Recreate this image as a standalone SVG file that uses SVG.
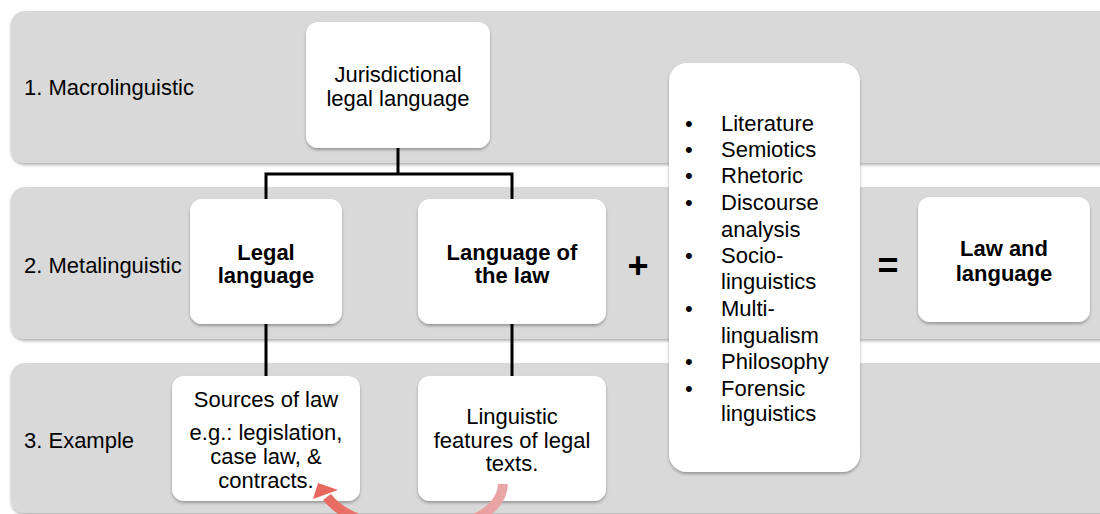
<svg xmlns="http://www.w3.org/2000/svg" width="1100" height="514" viewBox="0 0 1100 514">
  <defs>
    <filter id="shadow" x="-10%" y="-10%" width="120%" height="130%">
      <feDropShadow dx="0" dy="2" stdDeviation="1.5" flood-color="#000" flood-opacity="0.3"/>
    </filter>
    <linearGradient id="cycleGrad" x1="320" y1="0" x2="505" y2="0" gradientUnits="userSpaceOnUse">
      <stop offset="0" stop-color="#e7685e"/>
      <stop offset="1" stop-color="#e9a7a7"/>
    </linearGradient>
  </defs>
  <style>
    .band { fill: #d9d9d9; filter: url(#shadow); }
    .box { fill: #ffffff; filter: url(#shadow); }
    .t { font-family: "Liberation Sans", Arial, Helvetica, sans-serif; font-size: 22px; fill: #000; }
    .c { text-anchor: middle; }
    .b { font-weight: bold; }
    .link { fill: none; stroke: #000; stroke-width: 3; }
    .op { font-family: "Liberation Sans", Arial, sans-serif; font-size: 36px; font-weight: bold; fill: #000; text-anchor: middle; }
  </style>

  <rect width="1100" height="514" fill="#ffffff"/>

  <!-- level bands -->
  <g id="band-1">
    <rect class="band" x="11" y="11" width="1110" height="152" rx="14"/>
    <text class="t" x="24" y="95">1. Macrolinguistic</text>
  </g>
  <g id="band-2">
    <rect class="band" x="11" y="187" width="1110" height="152" rx="14"/>
    <text class="t" x="24" y="273">2. Metalinguistic</text>
  </g>
  <g id="band-3">
    <rect class="band" x="11" y="363" width="1110" height="150" rx="14"/>
    <text class="t" x="24" y="448">3. Example</text>
  </g>

  <!-- tree connectors -->
  <g id="connectors">
    <path class="link" d="M398 148 V174 M266 174 H512 M266 172.5 V200 M512 172.5 V200"/>
    <path class="link" d="M266 324 V377 M512 324 V377"/>
  </g>

  <g id="jurisdictional">
    <rect class="box" x="306" y="22" width="184" height="126" rx="12"/>
    <text class="t c" x="398" y="82">Jurisdictional</text>
    <text class="t c" x="398" y="106">legal language</text>
  </g>

  <g id="legal-language">
    <rect class="box" x="190" y="199" width="152" height="125" rx="12"/>
    <text class="t c b" x="266" y="260">Legal</text>
    <text class="t c b" x="266" y="283">language</text>
  </g>

  <g id="language-of-the-law">
    <rect class="box" x="418" y="199" width="188" height="125" rx="12"/>
    <text class="t c b" x="512" y="260">Language of</text>
    <text class="t c b" x="512" y="283">the law</text>
  </g>

  <g id="sources-of-law">
    <rect class="box" x="172" y="376" width="188" height="125" rx="12"/>
    <text class="t c" x="266" y="407">Sources of law</text>
    <text class="t c" x="266" y="440">e.g.: legislation,</text>
    <text class="t c" x="266" y="464">case law, &amp;</text>
    <text class="t c" x="266" y="488">contracts.</text>
  </g>

  <g id="linguistic-features">
    <rect class="box" x="418" y="376" width="188" height="125" rx="12"/>
    <text class="t c" x="512" y="424">Linguistic</text>
    <text class="t c" x="512" y="448">features of legal</text>
    <text class="t c" x="512" y="471">texts.</text>
  </g>

  <g id="operators">
    <text class="op" x="638" y="278">+</text>
    <text class="op" x="888" y="278">=</text>
  </g>

  <g id="disciplines">
    <rect class="box" x="669" y="63" width="191" height="409" rx="18"/>
    <g class="t">
      <text x="685" y="131">•</text>
      <text x="721" y="131">Literature</text>
      <text x="685" y="157">•</text>
      <text x="721" y="157">Semiotics</text>
      <text x="685" y="183">•</text>
      <text x="721" y="183">Rhetoric</text>
      <text x="685" y="210">•</text>
      <text x="721" y="210">Discourse</text>
      <text x="721" y="237">analysis</text>
      <text x="685" y="263">•</text>
      <text x="721" y="263">Socio-</text>
      <text x="721" y="289">linguistics</text>
      <text x="685" y="316">•</text>
      <text x="721" y="316">Multi-</text>
      <text x="721" y="343">lingualism</text>
      <text x="685" y="369">•</text>
      <text x="721" y="369">Philosophy</text>
      <text x="685" y="396">•</text>
      <text x="721" y="396">Forensic</text>
      <text x="721" y="421">linguistics</text>
    </g>
  </g>

  <g id="law-and-language">
    <rect class="box" x="918" y="197" width="172" height="125" rx="12"/>
    <text class="t c b" x="1004" y="256">Law and</text>
    <text class="t c b" x="1004" y="281">language</text>
  </g>

  <!-- circular arrow between the two examples -->
  <g id="cycle-arrow">
    <path d="M503 484 C500 540 365 545 327 497" fill="none" stroke="url(#cycleGrad)" stroke-width="10"/>
    <polygon points="318,483 338,490 313,499" fill="#e7685e"/>
  </g>
</svg>
